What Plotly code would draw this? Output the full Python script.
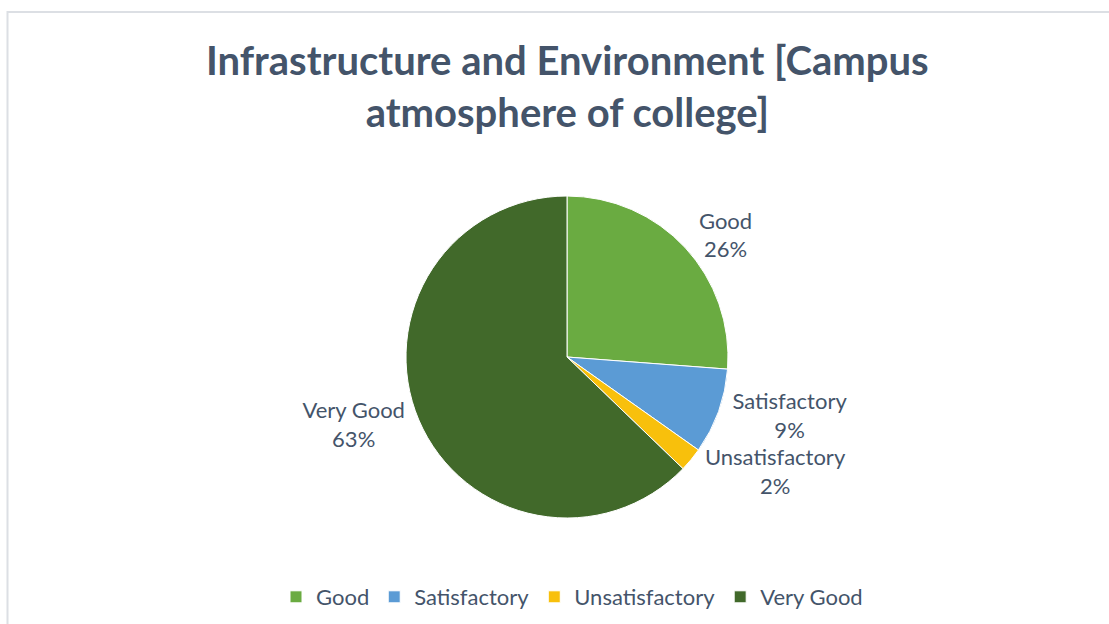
import plotly.graph_objects as go

categories = ["Good", "Satisfactory", "Unsatisfactory", "Very Good"]
values = [26.2, 8.6, 2.4, 62.8]
colors = ["#6aab41", "#5b9bd5", "#f8c00c", "#41692a"]

title_lines = ["Infrastructure and Environment [Campus", "atmosphere of college]"]

W, H = 1109, 624
cx, cy, r = 567, 357, 161

fig = go.Figure()
fig.add_trace(go.Pie(
    labels=categories,
    values=values,
    sort=False,
    direction="clockwise",
    rotation=0,
    marker=dict(colors=colors, line=dict(color="white", width=1)),
    texttemplate="%{label}<br>%{percent:.0%}",
    textposition="outside",
    textfont=dict(family="Lato", size=22, color="#44546a"),
    domain=dict(x=[(cx - r) / W, (cx + r) / W], y=[1 - (cy + r) / H, 1 - (cy - r) / H]),
    hoverinfo="label+percent",
))

fig.add_annotation(
    text="<b>" + "<br>".join(title_lines) + "</b>",
    xref="paper", yref="paper", x=cx / W, y=1 - 34 / H,
    xanchor="center", yanchor="top", showarrow=False,
    font=dict(family="Lato", size=40, color="#44546a"),
)

fig.update_layout(
    width=W, height=H,
    margin=dict(l=0, r=0, t=0, b=0),
    paper_bgcolor="white",
    showlegend=True,
    legend=dict(
        orientation="h", x=572 / W, xanchor="center", y=1 - 597 / H, yanchor="middle",
        font=dict(family="Lato", size=22, color="#44546a"),
        itemwidth=30, traceorder="normal",
    ),
    shapes=[dict(type="rect", xref="paper", yref="paper",
                 x0=7.5 / W, x1=1.05, y0=-0.05, y1=1 - 12 / H,
                 line=dict(color="#dcdfe4", width=2))],
)

fig.write_html("out.html", config={"displayModeBar": False},
               post_script="document.body.style.margin='0';")
